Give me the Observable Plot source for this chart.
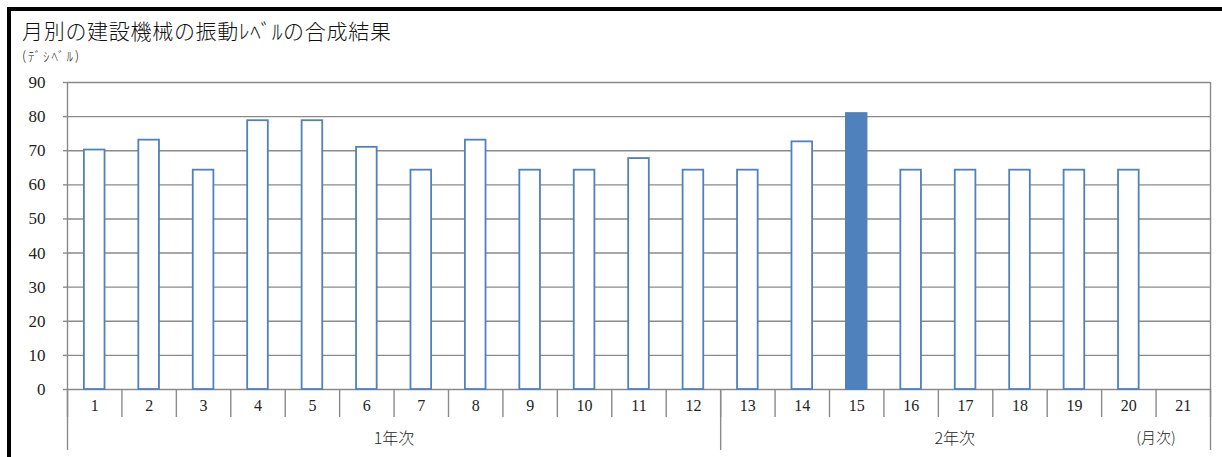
<!DOCTYPE html>
<html>
<head>
<meta charset="utf-8">
<script src="https://cdn.jsdelivr.net/npm/d3@7"></script>
<script src="https://cdn.jsdelivr.net/npm/@observablehq/plot@0.6"></script>
<style>
  html, body { margin: 0; padding: 0; width: 1222px; height: 457px; overflow: hidden; background: #fff; }
  #frame { position: absolute; left: 7px; top: 7px; width: 1240px; height: 470px; border: 4px solid #000; box-sizing: border-box; }
  #title { position: absolute; left: 22px; top: 15px; font-family: "Noto Sans CJK JP", sans-serif; font-weight: 300; font-size: 21px; letter-spacing: 0.7px; color: #111; line-height: 30px; white-space: nowrap; }
  #subtitle { position: absolute; left: 22px; top: 47px; font-family: "Noto Sans CJK JP", sans-serif; font-weight: 300; font-size: 13px; letter-spacing: 2px; color: #222; line-height: 18px; white-space: nowrap; }
  #chart { position: absolute; left: 0; top: 70px; }
</style>
</head>
<body>
<div id="frame"></div>
<div id="title">月別の建設機械の振動ﾚﾍﾞﾙの合成結果</div>
<div id="subtitle">(ﾃﾞｼﾍﾞﾙ)</div>
<div id="chart"></div>
<script>
const months = d3.range(1, 22);
const barMonths = d3.range(1, 21);
const values = [70.2, 73.1, 64.3, 78.8, 78.8, 71.0, 64.3, 73.1, 64.3, 64.3, 67.7, 64.3, 64.3, 72.6, 80.9, 64.3, 64.3, 64.3, 64.3, 64.3];
const highlightMonth = 15;
const yTicks = [0, 10, 20, 30, 40, 50, 60, 70, 80, 90];
const groups = [
  {label: "1年次", at: 6.5},
  {label: "2年次", at: 16.8}
];
const unitLabel = "(月次)";
const unitAt = 20.5;
const boundaries = d3.range(0.5, 22, 1);
const groupBoundaries = [0.5, 12.5, 21.5];

const data = barMonths.map((m, i) => ({m, v: values[i]}));

const gray = "#8a8a8a";
const blue = "#4f81bd";
const serif = "'Liberation Serif', 'DejaVu Serif', serif";

const chart = Plot.plot({
  width: 1222,
  height: 387,
  marginTop: 12,
  marginBottom: 68,
  marginLeft: 67,
  marginRight: 12,
  style: {fontFamily: serif, fontSize: "16px", color: "#222", background: "transparent"},
  x: {type: "linear", domain: [0.5, 21.5], axis: null},
  y: {domain: [0, 90], axis: null},
  marks: [
    Plot.ruleY(yTicks, {stroke: gray, strokeWidth: 1.4}),
    Plot.ruleX([0.5, 21.5], {stroke: gray, strokeWidth: 1.4}),
    Plot.rectY(data, {
      x1: d => d.m - 0.5, x2: d => d.m + 0.5, y: "v",
      insetLeft: 16.9, insetRight: 16.9,
      fill: d => d.m === highlightMonth ? blue : "#fff",
      stroke: blue, strokeWidth: 1.8
    }),
    Plot.axisY(yTicks, {
      tickSize: 4, tickPadding: 18, stroke: gray, strokeWidth: 1.4,
      fontSize: 17, fontFamily: serif, label: null
    }),
    Plot.axisX(boundaries, {
      tickSize: 28, tickFormat: () => "", stroke: gray, strokeWidth: 1.4, label: null
    }),
    Plot.axisX(groupBoundaries, {
      tickSize: 61, tickFormat: () => "", stroke: gray, strokeWidth: 1.4, label: null
    }),
    Plot.axisX(months, {
      tickSize: 0, tickPadding: 10, tickFormat: d => String(d),
      fontSize: 16, fontFamily: serif, label: null
    }),
    Plot.text(groups, {
      x: "at", y: 0, text: "label", dy: 49,
      fontSize: 16, fontFamily: "'Noto Sans CJK JP', sans-serif", fontWeight: 300, fill: "#222"
    }),
    Plot.text([unitLabel], {
      x: unitAt, y: 0, text: d => d, dy: 49,
      fontSize: 15, fontFamily: "'Noto Sans CJK JP', sans-serif", fontWeight: 300, fill: "#222"
    })
  ]
});
document.getElementById("chart").appendChild(chart);
</script>
</body>
</html>
